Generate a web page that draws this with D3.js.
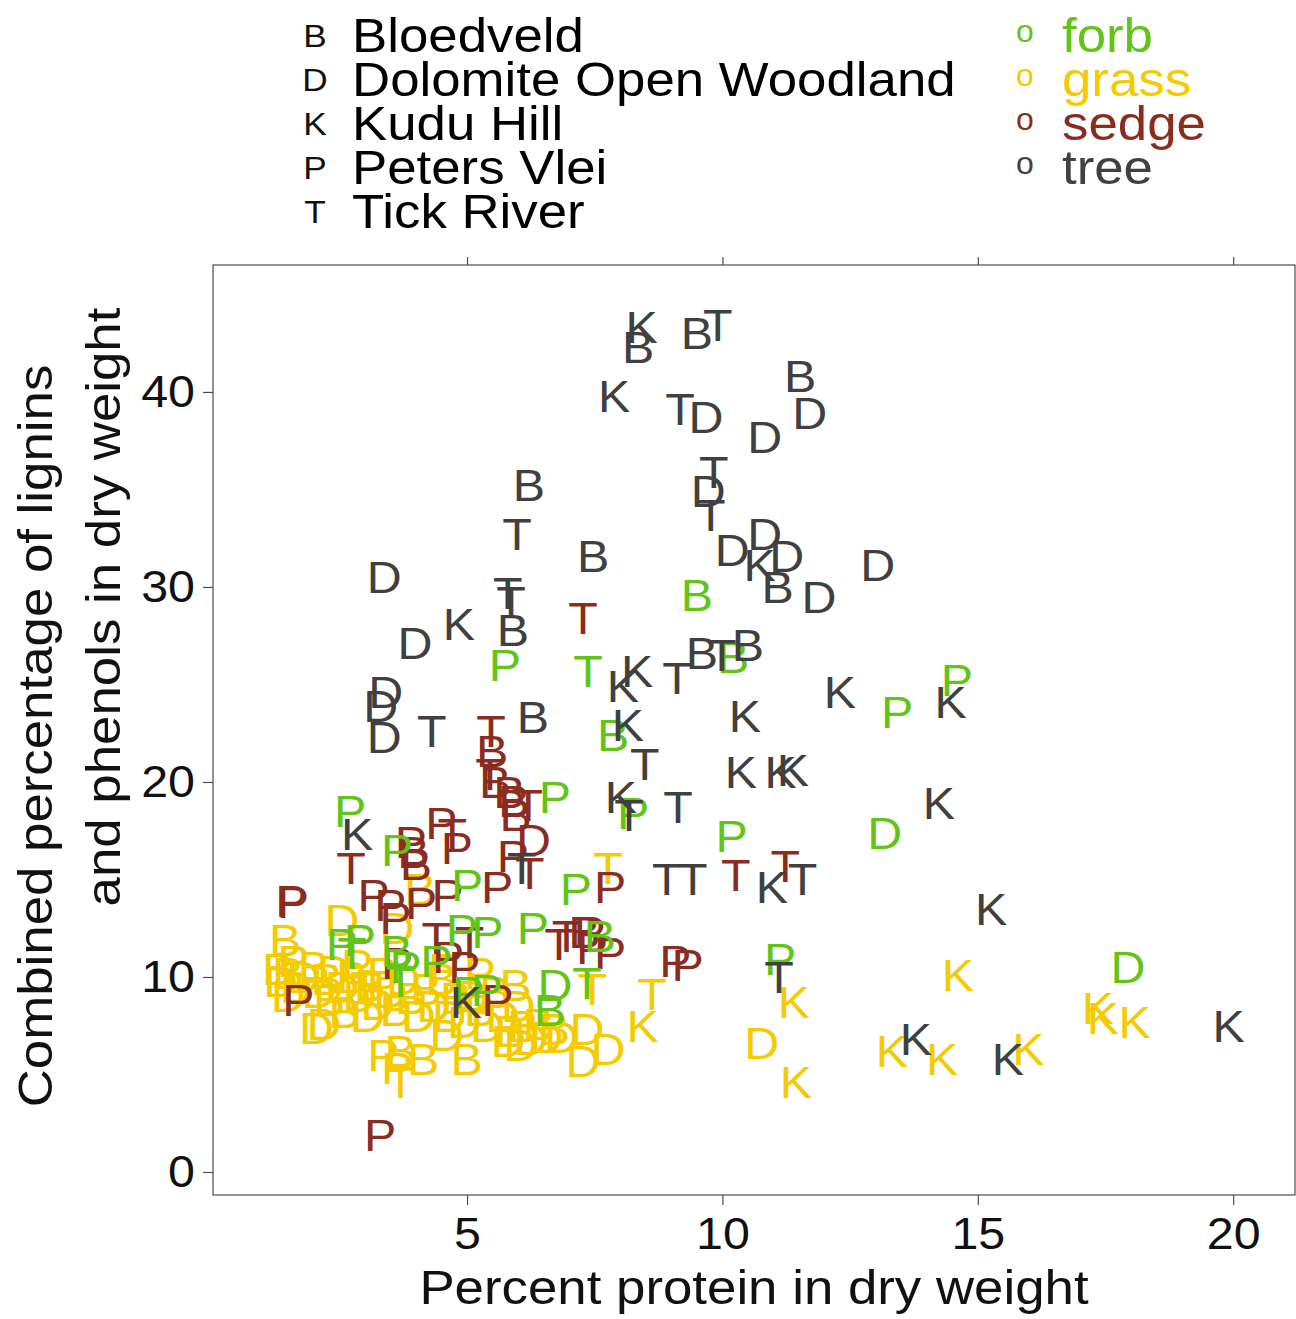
<!DOCTYPE html>
<html><head><meta charset="utf-8">
<script src="https://cdn.jsdelivr.net/npm/d3@7"></script>
<style>body{margin:0;background:#fff}svg{display:block}text{font-family:"Liberation Sans",Arial,sans-serif}</style>
</head><body>
<script>
// ---- data: [site letter, percent protein, combined lignins+phenols] ----
const treePts = [
["K",8.42,43.3],["B",8.35,42.3],["B",9.50,43.0],["T",9.91,43.4],["K",7.88,39.8],["T",9.17,39.1],["D",9.68,38.7],
["B",11.52,40.8],["D",11.71,38.9],["D",10.83,37.7],["T",9.83,35.9],["D",9.72,34.9],["T",9.77,33.7],["B",6.21,35.2],
["T",5.98,32.7],["D",10.83,32.7],["D",10.19,31.9],["K",10.73,31.1],["D",11.26,31.6],["B",11.08,30.0],["D",11.89,29.5],
["D",13.04,31.1],["B",7.47,31.6],["D",3.38,30.5],["T",5.80,29.7],["T",5.86,29.2],["B",5.90,27.8],["K",4.84,28.1],
["D",3.98,27.1],["D",3.41,24.6],["D",3.31,23.9],["D",3.38,22.3],["T",4.31,22.6],["B",6.29,23.3],["B",9.60,26.6],
["T",9.99,26.5],["B",10.50,27.0],["T",9.11,25.3],["K",8.33,25.7],["K",8.05,24.9],["K",8.15,22.9],["K",10.44,23.4],
["K",12.30,24.6],["K",14.47,24.1],["T",8.48,20.9],["K",10.36,20.5],["K",11.14,20.5],["K",11.38,20.6],["K",8.01,19.2],
["T",8.17,18.3],["T",9.13,18.7],["K",14.24,18.9],["K",2.85,17.3],["T",6.07,15.6],["T",8.91,15.0],["T",9.42,15.0],
["K",10.97,14.6],["T",11.57,15.0],["K",15.26,13.5],["T",11.11,10.0],["K",4.98,8.7],["K",13.79,6.8],["K",15.59,5.8],
["K",19.91,7.5]
];
const forbPts = [
["B",9.50,29.6],["P",5.74,26.0],["T",7.37,25.7],["B",7.86,22.4],["B",10.21,26.4],["P",13.42,23.6],["P",14.59,25.2],
["D",13.18,17.4],["P",10.18,17.2],["P",8.25,18.4],["P",6.72,19.2],["P",2.71,18.5],["P",3.63,16.5],["P",5.00,14.7],
["P",7.13,14.5],["P",6.29,12.5],["P",5.40,12.3],["P",2.55,11.7],["P",2.90,11.9],["T",2.75,11.2],["T",7.35,9.7],
["D",6.72,9.6],["B",6.62,8.3],["P",11.13,10.9],["D",17.94,10.5],["P",5.39,9.3],["B",7.60,12.1],["P",3.80,10.5],
["T",3.70,9.8],["P",4.40,10.8],["P",5.02,9.2],["B",3.62,11.3],["P",4.90,12.4]
];
const sedgePts = [
["T",7.27,28.4],["T",5.47,22.6],["B",5.49,21.6],["T",5.45,20.4],["B",5.55,20.0],["B",5.83,19.5],["B",5.92,19.0],
["B",5.95,18.3],["T",6.20,18.8],["D",6.30,17.0],["P",5.90,16.2],["T",6.23,15.3],["P",5.59,14.6],["P",4.50,17.9],
["T",4.71,17.3],["P",4.80,16.6],["B",3.95,16.4],["B",4.00,15.8],["P",3.90,16.9],["T",2.73,15.6],["P",1.56,13.9],
["P",1.59,13.85],["P",3.17,14.2],["P",3.50,13.7],["P",3.60,13.0],["P",4.10,13.8],["P",4.62,14.2],["T",4.40,12.0],
["P",4.63,11.0],["P",3.63,10.7],["P",4.95,10.5],["T",5.05,11.8],["P",1.70,8.8],["P",3.30,1.9],["T",6.95,12.1],
["T",6.80,11.7],["P",7.40,12.3],["B",7.30,12.3],["P",7.45,11.5],["P",7.80,11.2],["P",9.08,10.8],["P",9.32,10.6],
["T",10.26,15.2],["T",11.23,15.7],["P",7.80,14.6],["P",5.60,8.8]
];
const grassPts = [
["T",7.76,15.6],["T",8.62,9.1],["K",8.44,7.5],["D",7.76,6.3],["D",7.27,5.7],["D",7.35,7.3],["D",10.77,6.6],
["K",11.40,8.7],["K",11.44,4.6],["K",14.61,10.1],["K",13.32,6.2],["K",14.30,5.8],["K",15.99,6.3],["K",17.35,8.4],
["K",17.45,7.9],["K",18.07,7.7],["T",7.45,9.4],["B",4.08,14.5],["D",3.63,12.5],
["B",1.44,11.9],["D",2.55,12.9],["B",1.30,10.4],["D",1.35,9.8],["B",1.50,10.2],["B",1.65,9.5],["D",1.80,10.0],
["B",2.00,10.5],["D",2.10,9.2],["B",2.25,9.9],["D",2.40,10.3],["B",2.30,8.8],["D",2.20,7.6],["D",2.55,9.5],
["B",2.75,10.0],["D",2.90,9.0],["B",3.10,9.6],["D",3.25,8.6],["B",3.35,10.2],["D",3.50,9.2],["B",3.60,8.3],
["D",3.75,9.9],["B",3.90,8.9],["D",4.05,8.0],["B",4.20,9.4],["D",4.35,8.5],["B",4.50,9.9],["D",4.65,8.0],
["B",4.78,8.9],["D",4.95,7.7],["D",5.10,9.0],["B",5.25,8.3],["D",5.40,7.5],["B",5.55,9.2],["D",5.70,8.0],
["B",5.85,7.2],["D",6.00,8.5],["B",6.10,7.5],["D",6.25,6.8],["B",6.40,7.6],["D",6.55,6.9],["B",6.70,7.3],
["D",6.85,6.9],["D",5.80,6.7],["D",6.05,6.5],["P",3.36,6.0],["B",3.70,6.2],["B",4.14,5.8],["P",3.63,5.3],
["T",3.70,4.6],["B",4.99,5.8],["D",2.05,7.4],["D",4.60,7.0],["P",1.60,10.8],["P",2.85,10.6],["P",4.55,10.4],
["P",5.25,10.2],["T",3.00,9.5],["D",1.50,9.0],["B",2.60,8.2],["D",3.05,8.0],["B",5.95,9.6]
];
const typeNames = ["forb","grass","sedge","tree"];
const typeColors = ["#62c417","#f3cb00","#8b2c20","#404040"];
const siteLetters = ["B","D","K","P","T"];
const siteNames = ["Bloedveld","Dolomite Open Woodland","Kudu Hill","Peters Vlei","Tick River"];
const xTicks = [5,10,15,20];
const yTicks = [0,10,20,30,40];

const W = 1296, H = 1319;
const L = 213, R = 1295, T = 265, B = 1195;
const svg = d3.select("body").append("svg").attr("width", W).attr("height", H);
const x = d3.scaleLinear().domain([0.026, 21.21]).range([L, R]);
const y = d3.scaleLinear().domain([-1.18, 46.51]).range([B, T]);
const STR = 1.1;
function stretch(sel){ sel.each(function(){ const n=this; const w=n.getComputedTextLength(); n.setAttribute("textLength", w*STR); n.setAttribute("lengthAdjust","spacingAndGlyphs"); }); }

// points
const order = [["grass",grassPts],["sedge",sedgePts],["forb",forbPts],["tree",treePts]];
const g = svg.append("g");
order.forEach(([name, pts]) => {
  const col = typeColors[typeNames.indexOf(name)];
  g.append("g").selectAll("text").data(pts).join("text")
    .attr("x", d => x(d[1])).attr("y", d => y(d[2])).attr("dy", "0.36em")
    .attr("text-anchor", "middle").attr("font-size", 44).attr("fill", col).text(d => d[0])
    .call(stretch);
});

// box
svg.append("rect").attr("x", L).attr("y", T).attr("width", R-L).attr("height", B-T)
  .attr("fill", "none").attr("stroke", "#4d4d4d").attr("stroke-width", 1.2);

function styleAxis(a){ a.select(".domain").remove(); a.selectAll("line").attr("stroke","#4d4d4d").attr("stroke-width",1.2);
  a.selectAll("text").attr("font-size",44).attr("fill","#111").attr("font-family","Liberation Sans, Arial, sans-serif").call(stretch); }
svg.append("g").attr("transform", `translate(0,${B})`)
  .call(d3.axisBottom(x).tickValues(xTicks).tickSize(10).tickPadding(13)).call(styleAxis);
svg.append("g").attr("transform", `translate(0,${T})`)
  .call(d3.axisTop(x).tickValues(xTicks).tickSize(8).tickFormat("")).call(styleAxis);
svg.append("g").attr("transform", `translate(${L},0)`)
  .call(d3.axisLeft(y).tickValues(yTicks).tickSize(10).tickPadding(8)).call(styleAxis);

// axis titles
svg.append("text").attr("x", 754).attr("y", 1304).attr("text-anchor","middle").attr("font-size",48)
  .attr("fill","#111").text("Percent protein in dry weight").call(stretch);
svg.append("text").attr("transform","translate(52,736) rotate(-90)").attr("text-anchor","middle").attr("font-size",48)
  .attr("fill","#111").text("Combined percentage of lignins").call(stretch);
svg.append("text").attr("transform","translate(120,607) rotate(-90)").attr("text-anchor","middle").attr("font-size",48)
  .attr("fill","#111").text("and phenols in dry weight").call(stretch);

// legends
const rowY = d3.scaleLinear().domain([0,1]).range([35,79]);
siteLetters.forEach((s,i) => {
  svg.append("text").attr("x",315).attr("y",rowY(i)).attr("dy","0.36em").attr("text-anchor","middle")
    .attr("font-size",32).attr("fill","#111").text(s).call(stretch);
  svg.append("text").attr("x",352).attr("y",rowY(i)).attr("dy","0.36em")
    .attr("font-size",48).attr("fill","#000").text(siteNames[i]).call(stretch);
});
typeNames.forEach((t,i) => {
  svg.append("text").attr("x",1025).attr("y",rowY(i)).attr("dy","0.22em").attr("text-anchor","middle")
    .attr("font-size",32).attr("fill",typeColors[i]).text("o");
  svg.append("text").attr("x",1062).attr("y",rowY(i)).attr("dy","0.36em")
    .attr("font-size",48).attr("fill",typeColors[i]).text(t).call(stretch);
});
</script>
</body></html>
